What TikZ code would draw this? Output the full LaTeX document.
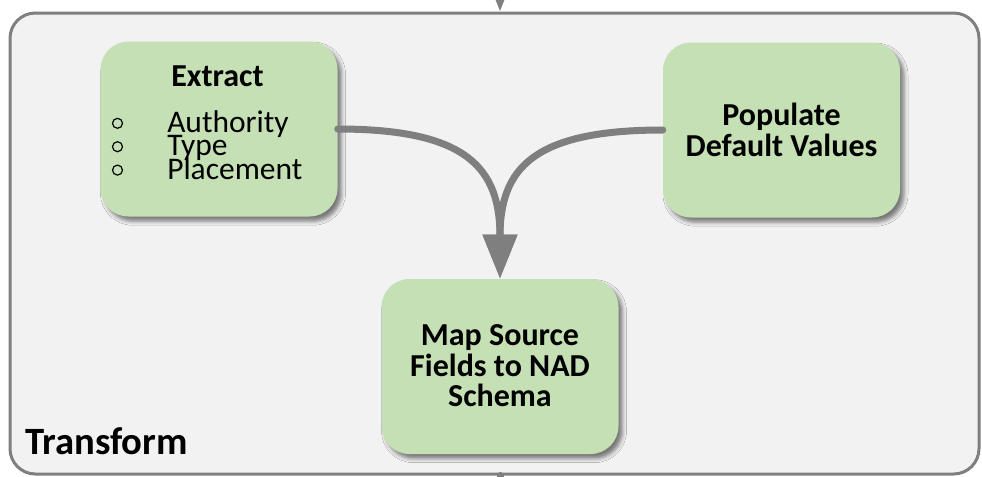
\documentclass[tikz,border=0pt]{standalone}
\usepackage{fontspec}
\setmainfont{Carlito}
\usepackage{tikz}
\usetikzlibrary{positioning}
\usetikzlibrary{arrows.meta}
\usetikzlibrary{shadows.blur}

\definecolor{framegray}{HTML}{7F7F7F}
\definecolor{panelgray}{HTML}{F2F2F2}
\definecolor{stepgreen}{HTML}{C5E0B4}

\newcommand{\tightlines}{\lineskiplimit=-50pt\relax\lineskip=0pt\relax}

\tikzset{
    stepbox/.style={rectangle, rounded corners=21pt, fill=stepgreen,
        minimum width=177.75pt, minimum height=131.25pt, inner sep=0pt,
        blur shadow={shadow xshift=3pt, shadow yshift=-3.5pt,
        shadow blur radius=3pt, shadow opacity=50}},
    steptext/.style={font=\fontsize{24}{22.8}\selectfont\bfseries,
        align=center, inner sep=0pt},
    fieldtext/.style={font=\fontsize{23.6}{17.6}\selectfont\tightlines,
        inner sep=0pt, align=left},
    ring/.style={circle, draw=black, line width=0.9pt, minimum size=7.5pt,
        inner sep=0pt},
    flow/.style={draw=framegray, line width=5.25pt, line cap=round,
        -{Triangle[length=33pt, width=24.75pt]}}
}

\begin{document}
\begin{tikzpicture}[x=0.75pt, y=-0.75pt]
        \useasboundingbox (0,0) rectangle (982,476);
        \clip (0,0) rectangle (982,476);

        % outer stage
        \node[rectangle, rounded corners=19pt, fill=panelgray,
        draw=framegray, line width=2.25pt, minimum width=726.75pt,
        minimum height=345.75pt, inner sep=0pt]
        (transform) at (494.5,243.5) {};
        \node[font=\fontsize{29}{29}\selectfont\bfseries, inner sep=0pt,
        anchor=base west] (transformlabel) at (25,454) {Transform};

        % steps
        \node[stepbox] (extract) at (219,129) {};
        \node[stepbox] (populate) at (781.5,130) {};
        \node[stepbox] (map) at (500,366.5) {};

        \node[steptext, anchor=base] (extracttitle) at (217.5,86.7)
        {Extract};
        \node[fieldtext, anchor=north west] (fields) at (167,110)
        {Authority\\Type\\Placement};

        \foreach \i in {1, 2, 3}
        {
            \node[ring] (ring\i) at (117.5,99.9+23.4*\i) {};
        }

        \node[steptext] (populatetext) at (populate.center)
        {Populate\\Default Values};
        \node[steptext] (maptext) at (500,366)
        {Map Source\\Fields to NAD\\Schema};

        % flows
        \coordinate (src) at (500,-60);
        \coordinate (sink) at (500,560);
        \draw[flow] (src) -- (transform.north -| map.north);
        \draw[flow] (transform.south -| map.south) -- (sink);

        \draw[flow] (extract.east) .. controls +(130,0) and +(0,-110)
        .. (map.north);
        \draw[flow] (populate.west) .. controls +(-130,0) and +(0,-110)
        .. (map.north);
    \end{tikzpicture}
\end{document}
